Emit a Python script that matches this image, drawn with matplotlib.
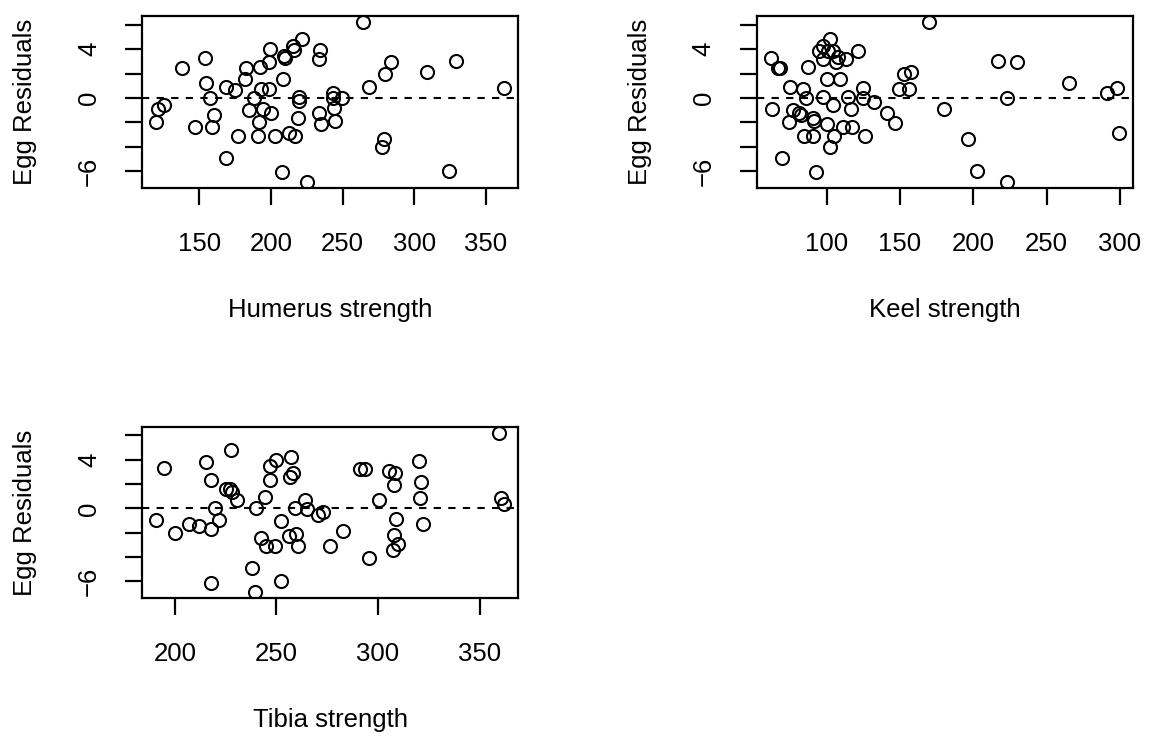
import numpy as np
import matplotlib
matplotlib.use("Agg")
import matplotlib.pyplot as plt

plt.rcParams['font.family'] = ['Liberation Sans', 'DejaVu Sans']

# residuals vs bone strength
humerus_x = [137.9, 154.0, 154.4, 157.2, 168.6, 174.6, 120.9, 125.6, 119.8, 147.2,
             158.9, 160.5, 168.6, 177.2, 182.3, 181.9, 184.7, 187.9, 192.3, 193.2,
             194.8, 192.0, 190.9, 198.8, 199.5, 199.0, 200.4, 202.5, 208.4, 208.8,
             210.0, 212.3, 216.5, 207.7, 215.3, 215.8, 221.4, 225.1, 219.5, 219.7,
             219.0, 234.4, 233.7, 233.2, 234.9, 243.0, 243.0, 249.5, 243.7, 244.4,
             264.1, 268.6, 279.9, 283.9, 308.8, 328.9, 362.7, 278.6, 277.4, 324.5]
humerus_y = [2.41, 3.28, 1.26, 0.0, 0.9, 0.66, -0.87, -0.57, -1.99, -2.34,
             -2.4, -1.42, -4.94, -3.08, 2.41, 1.53, -1.01, 0.03, 2.52, 0.77,
             -0.93, -1.99, -3.11, 2.9, 3.99, 0.71, -1.25, -3.11, 1.53, 3.44,
             3.23, -2.84, -3.11, -6.03, 4.26, 3.93, 4.81, -6.83, 0.06, -0.27,
             -1.66, 3.88, 3.17, -1.2, -2.16, 0.44, 0.03, 0.0, -0.84, -1.88,
             6.18, 0.9, 1.94, 2.9, 2.16, 3.03, 0.85, -3.38, -4.0, -5.93]

keel_x = [61.7, 66.5, 68.1, 62.4, 69.4, 74.9, 77.2, 80.8, 82.2, 74.4,
          84.0, 85.8, 87.4, 90.8, 91.5, 84.7, 90.8, 92.5, 94.7, 97.3,
          97.7, 100.0, 102.3, 101.1, 104.1, 97.7, 100.0, 104.1, 104.6, 102.3,
          106.4, 107.9, 109.1, 113.2, 111.0, 114.6, 116.6, 117.5, 121.4, 125.0,
          124.4, 126.2, 131.9, 141.0, 146.7, 149.0, 156.3, 152.4, 157.4, 170.0,
          179.8, 196.6, 202.6, 216.9, 229.5, 223.1, 223.1, 265.3, 291.0, 297.9,
          299.7]
keel_y = [3.28, 2.41, 2.41, -0.87, -4.94, 0.9, -1.01, -1.2, -1.42, -1.99,
          0.77, 0.03, 2.52, -1.66, -1.88, -3.11, -3.11, -6.07, 3.85, 4.26,
          3.17, 1.53, 4.81, 3.85, 3.85, 0.06, -2.16, -0.6, -3.11, -4.0,
          2.9, 3.31, 1.53, 3.17, -2.38, 0.06, -0.93, -2.34, 3.85, 0.85,
          0.0, -3.11, -0.33, -1.25, -2.02, 0.71, 0.71, 1.94, 2.13, 6.18,
          -0.87, -3.38, -5.93, 3.03, 2.9, 0.0, -6.83, 1.26, 0.39, 0.85,
          -2.87]

tibia_x = [190.7, 194.7, 200.0, 206.9, 211.8, 215.2, 218.0, 219.7, 217.6, 221.6,
           217.7, 225.4, 227.0, 227.9, 230.6, 227.5, 238.2, 239.3, 239.8, 244.6,
           242.6, 244.7, 249.5, 252.5, 252.5, 246.7, 250.0, 246.7, 257.4, 258.2,
           256.5, 256.2, 259.8, 260.5, 259.3, 263.9, 265.0, 270.6, 272.9, 276.2,
           282.7, 295.5, 291.0, 293.8, 300.5, 305.4, 308.5, 307.8, 309.0, 307.8,
           309.9, 307.4, 320.1, 321.3, 320.8, 322.1, 359.5, 360.5, 362.1]
tibia_y = [-0.93, 3.28, -2.02, -1.28, -1.47, 3.83, 2.35, 0.03, -1.69, -0.98,
           -6.11, 1.59, 1.59, 1.31, 0.71, 4.75, -4.89, -6.86, 0.03, 0.9,
           -2.43, -3.11, -3.11, -1.01, -5.98, 3.5, 3.99, 2.35, 4.21, 2.9,
           2.57, -2.3, -2.07, -3.11, 0.03, 0.71, -0.05, -0.52, -0.33, -3.11,
           -1.89, -4.07, 3.23, 3.23, 0.71, 3.03, 2.9, 1.94, -0.87, -2.16,
           -2.89, -3.44, 3.85, 2.13, 0.85, -1.25, 6.18, 0.85, 0.39]

panels = [
    (humerus_x, humerus_y, "Humerus strength", [150, 200, 250, 300, 350]),
    (keel_x, keel_y, "Keel strength", [100, 150, 200, 250, 300]),
    (tibia_x, tibia_y, "Tibia strength", [200, 250, 300, 350]),
]
# axes boxes in figure fractions (left, bottom, width, height)
boxes = [
    [0.1235, 0.7446, 0.327, 0.2337],
    [0.658, 0.7446, 0.3275, 0.2337],
    [0.1235, 0.1871, 0.327, 0.2332],
]

yticks = [-6, -4, -2, 0, 2, 4, 6]
ylabels = ["\u22126", "", "", "0", "", "4", ""]

fig = plt.figure(figsize=(11.5, 7.36), dpi=100)
fs = 18.5
lw = 1.6

for (x, y, lab, xt), box in zip(panels, boxes):
    ax = fig.add_axes(box)
    ax.plot(x, y, 'o', mfc='none', mec='black', ms=9.4, mew=1.5, ls='none')
    ax.axhline(0, color='black', lw=1.5, ls=(0, (3.5, 3.5)))
    ax.margins(x=0.04, y=0.04)
    ax.set_xticks(xt)
    ax.set_xticklabels([str(v) for v in xt])
    ax.set_yticks(yticks)
    ax.set_yticklabels(ylabels, rotation=90, va='center')
    ax.tick_params(length=12.5, width=lw, labelsize=fs, color='black')
    ax.tick_params(axis='x', pad=19)
    ax.tick_params(axis='y', pad=17)
    for s in ax.spines.values():
        s.set_linewidth(lw)
    ax.set_xlabel(lab, fontsize=fs)
    ax.xaxis.set_label_coords(0.5, -0.71)
    ax.xaxis.label.set_va('center')
    ax.set_ylabel("Egg Residuals", fontsize=fs)
    ax.yaxis.set_label_coords(-0.31, 0.5)
    ax.yaxis.label.set_va('center')

plt.savefig('out.png', dpi=100)
